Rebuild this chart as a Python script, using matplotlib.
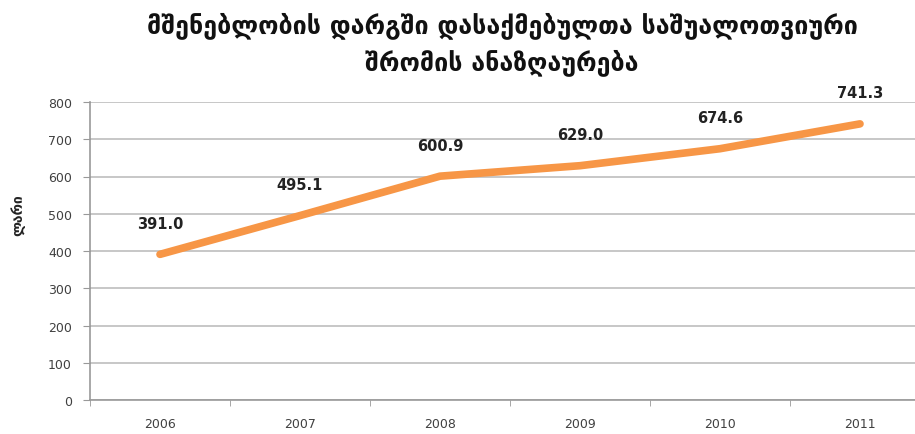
import matplotlib.pyplot as plt

years = ["2006", "2007", "2008", "2009", "2010", "2011"]
wages = [391.0, 495.1, 600.9, 629.0, 674.6, 741.3]
title = "მშენებლობის დარგში დასაქმებულთა საშუალოთვიური\nშრომის ანაზღაურება"
ylabel = "ლარი"

plt.rcParams['font.family'] = ['DejaVu Sans']

fig = plt.figure(figsize=(9.15, 4.35), dpi=100)
W, H = 915, 435
# axes from x=90 to 930 px, y=103 to 401 px
ax = fig.add_axes([90 / W, (H - 401) / H, 840 / W, 298 / H])

x = list(range(len(years)))
ax.plot(x, wages, color="#F79646", linewidth=5.5, solid_capstyle="round", zorder=3)
for xi, v in zip(x, wages):
    ax.annotate(f"{v:.1f}", (xi, v), xytext=(0, 17), textcoords="offset points",
                ha="center", va="bottom", fontsize=10.5, fontweight="bold", color="#222222")

ax.set_xlim(-0.5, len(years) - 0.5)
ax.set_ylim(0, 800)
ax.set_yticks(range(0, 801, 100))
ax.set_xticks(x)
ax.set_xticklabels(years)
ax.set_xticks([i + 0.5 for i in range(-1, len(years))], minor=True)
ax.tick_params(axis="x", which="major", length=0, pad=12, labelsize=9, labelcolor="#404040")
ax.tick_params(axis="x", which="minor", length=4, color="#999999")
ax.tick_params(axis="y", length=5, color="#999999", labelsize=9, labelcolor="#404040", pad=8)
ax.grid(axis="y", color="#BEBEBE", linewidth=1.2)
ax.set_axisbelow(True)
for s in ["top", "right"]:
    ax.spines[s].set_visible(False)
for s in ["left", "bottom"]:
    ax.spines[s].set_color("#999999")
    ax.spines[s].set_linewidth(1.2)

fig.text(502 / W, 1 - 44 / H, title, ha="center", va="center", fontsize=18,
         fontweight="bold", color="#111111", linespacing=1.45)
fig.text(18 / W, 1 - 215 / H, ylabel, rotation=90, ha="center", va="center",
         fontsize=10, fontweight="bold", color="#222222")

fig.savefig("out.png", dpi=100)
